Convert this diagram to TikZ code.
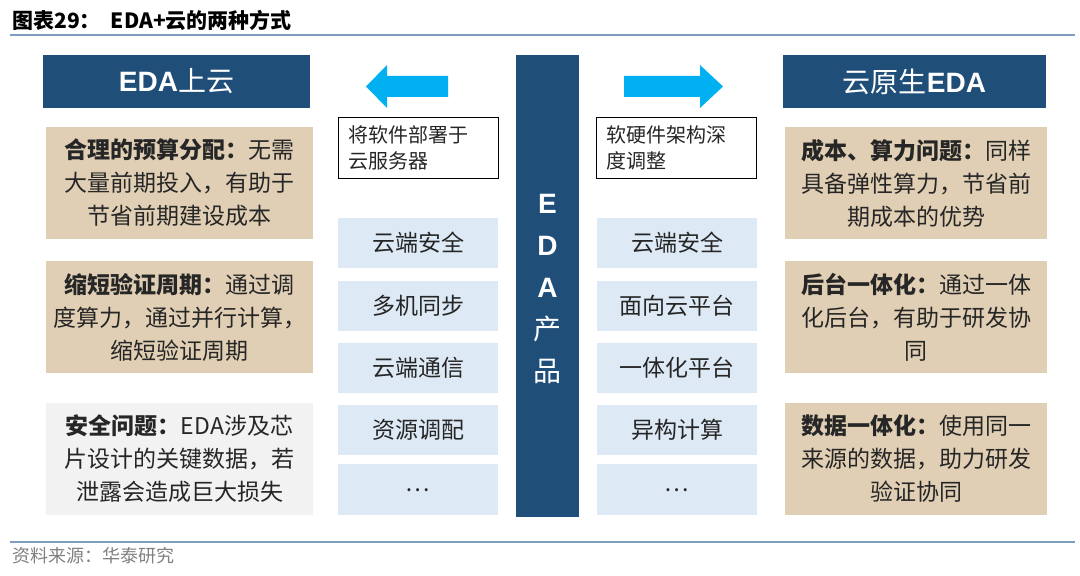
\documentclass[tikz,border=0pt]{standalone}
\usepackage{fontspec}
\setmainfont{Noto Sans CJK SC}
\newfontfamily\latinfont{Liberation Sans}
\usetikzlibrary{positioning}
\definecolor{eda blue}{RGB}{31,78,121}
\definecolor{eda cyan}{RGB}{0,176,240}
\definecolor{eda tan}{RGB}{224,207,180}
\definecolor{eda light}{RGB}{221,233,245}
\definecolor{eda gray}{RGB}{242,242,242}
\definecolor{eda rule}{RGB}{127,157,191}

\begin{document}
\begin{tikzpicture}[x=0.5pt, y=-0.5pt,
					head box/.style={fill=eda blue, text=white, minimum height=26.5pt, inner sep=0pt, font=\fontsize{14}{16}\selectfont},
					note box/.style={fill=eda tan, minimum height=56pt, inner sep=0pt, align=center, text=black!85, font=\fontsize{11.5}{16.5}\selectfont},
					item box/.style={fill=eda light, minimum width=80pt, minimum height=25pt, inner sep=0pt, text=black!85, font=\fontsize{11.5}{14}\selectfont},
					tag box/.style={draw=black, line width=0.8pt, minimum height=30.5pt, text width=70pt, inner xsep=5pt, inner ysep=0pt, align=left, text=black!85, font=\fontsize{10}{12.75}\selectfont},
					move arrow/.style={fill=eda cyan},
				]
					\useasboundingbox (0,0) rectangle (1080,576);
					
					% title and rules
					\node[anchor=west, inner sep=0pt, font=\bfseries\fontsize{10.5}{12}\selectfont] (title) at (12,20) {图表29：\hspace{5pt}EDA+云的两种方式};
					\draw[eda rule, line width=1pt] (10,35) -- (1075,35);
					\draw[eda rule, line width=1pt] (10,542) -- (1075,542);
					\node[anchor=west, inner sep=0pt, text=black!50, font=\fontsize{9}{11}\selectfont] (source) at (12,556) {资料来源：华泰研究};
					
					% headers and middle bar
					\node[head box, minimum width=133.5pt] (oncloud) at (176.5,81.5) {{\latinfont\bfseries EDA}上云};
					\node[head box, minimum width=131.5pt] (nativecloud) at (914.5,81.5) {云原生{\latinfont\bfseries EDA}};
					\node[fill=eda blue, minimum width=31.5pt, minimum height=231pt, inner sep=0pt] (edabar) at (547.5,286) {};
					\node[text=white, align=center, font=\fontsize{14}{21.1}\selectfont] (edatext) at (547.5,289) {{\latinfont\bfseries E}\\{\latinfont\bfseries D}\\{\latinfont\bfseries A}\\产\\品};
					
					% arrows
					\fill[move arrow] (448,76) -- (387,76) -- (387,65) -- (366,86.5) -- (387,108) -- (387,97) -- (448,97) -- cycle;
					\fill[move arrow] (624,76) -- (700,76) -- (700,65) -- (723,86.5) -- (700,108) -- (700,97) -- (624,97) -- cycle;
					
					\node[tag box] (deploy) at (418.5,148) {将软件部署于\\云服务器};
					\node[tag box] (rework) at (676.5,148) {软硬件架构深\\度调整};
					
					% left notes
					\node[note box, minimum width=133.5pt] (budget) at (179.5,183) {{\bfseries 合理的预算分配：}无需\\大量前期投入，有助于\\节省前期建设成本};
					\node[note box, minimum width=133.5pt] (cycle) at (179.5,317) {{\bfseries 缩短验证周期：}通过调\\度算力，通过并行计算，\\缩短验证周期};
					\node[note box, minimum width=133.5pt, fill=eda gray] (safety) at (179.5,459) {{\bfseries 安全问题：}EDA涉及芯\\片设计的关键数据，若\\泄露会造成巨大损失};
					
					% right notes
					\node[note box, minimum width=131pt] (cost) at (916,183) {{\bfseries 成本、算力问题：}同样\\具备弹性算力，节省前\\期成本的优势};
					\node[note box, minimum width=131pt] (backend) at (916,317) {{\bfseries 后台一体化：}通过一体\\化后台，有助于研发协\\同};
					\node[note box, minimum width=131pt] (data) at (916,459) {{\bfseries 数据一体化：}使用同一\\来源的数据，助力研发\\验证协同};
					
					% middle items
					\node[item box] (lsafe) at (418,243) {云端安全};
					\node[item box] (lsync) at (418,306) {多机同步};
					\node[item box] (lcomm) at (418,368) {云端通信};
					\node[item box] (lres) at (418,430) {资源调配};
					\node[item box, minimum height=25.5pt] (lmore) at (418,489.5) {\raisebox{-2pt}{…}};
					\node[item box] (rsafe) at (677,243) {云端安全};
					\node[item box] (rplat) at (677,306) {面向云平台};
					\node[item box] (rint) at (677,368) {一体化平台};
					\node[item box] (rhet) at (677,430) {异构计算};
					\node[item box, minimum height=25.5pt] (rmore) at (677,489.5) {\raisebox{-2pt}{…}};
				\end{tikzpicture}
\end{document}
